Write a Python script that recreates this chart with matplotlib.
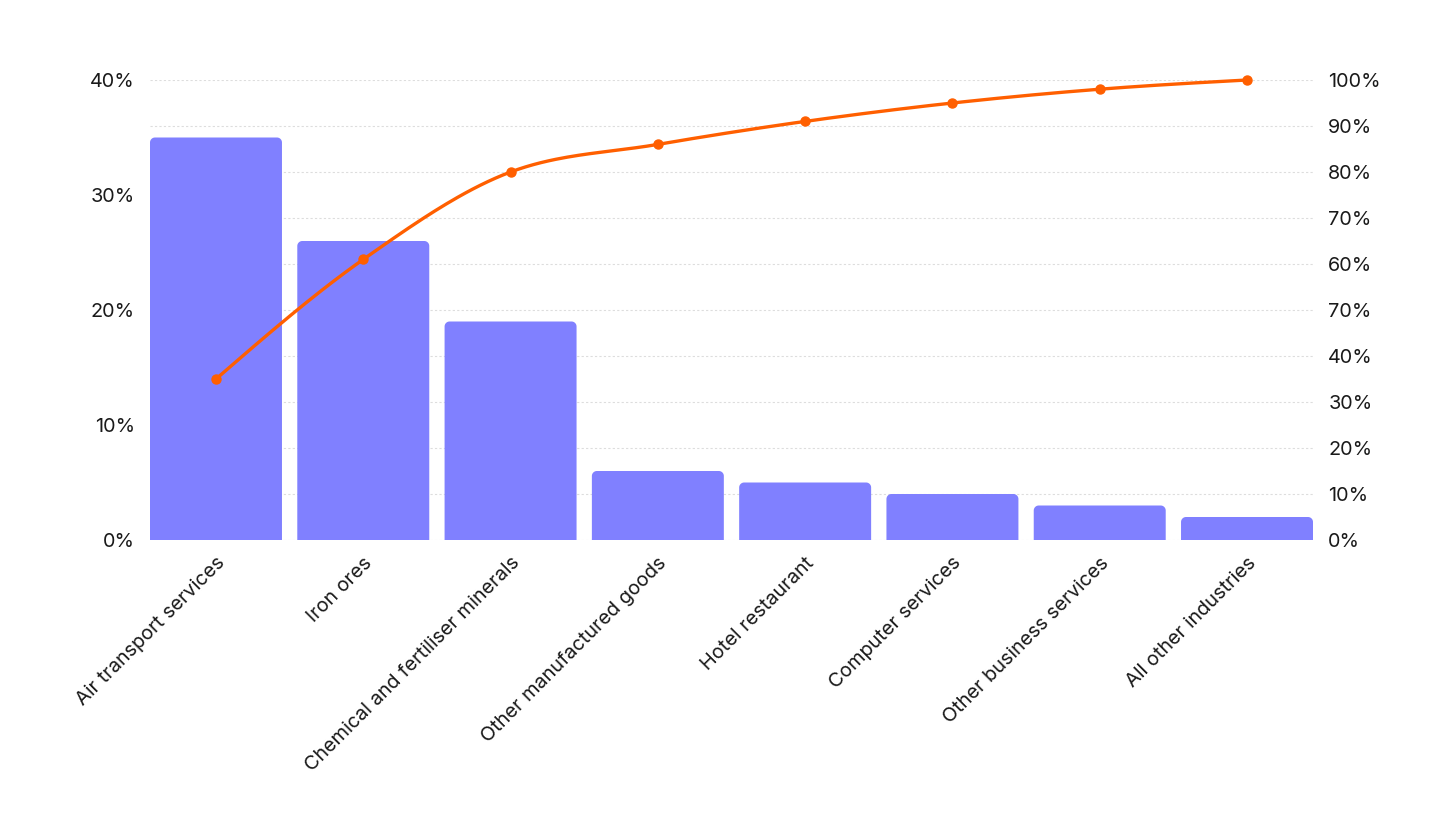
import numpy as np
import matplotlib
matplotlib.use("Agg")
import matplotlib.pyplot as plt
from matplotlib.patches import PathPatch
from matplotlib.path import Path

plt.rcParams['font.family'] = ['Inter', 'DejaVu Sans']

categories = ["Air transport services", "Iron ores", "Chemical and fertiliser minerals",
              "Other manufactured goods", "Hotel restaurant", "Computer services",
              "Other business services", "All other industries"]
shares = [35, 26, 19, 6, 5, 4, 3, 2]
cumulative = [35, 61, 80, 86, 91, 95, 98, 100]
left_ticks = [0, 10, 20, 30, 40]
left_labels = ["0%", "10%", "20%", "30%", "40%"]
right_ticks = [0, 10, 20, 30, 40, 50, 60, 70, 80, 90, 100]
right_labels = ["0%", "10%", "20%", "30%", "40%", "70%", "60%", "70%", "80%", "90%", "100%"]

BAR = "#8080FF"
LINE = "#FF5F00"
TXT = "#1a1a1a"

W, H = 1451, 816
fig = plt.figure(figsize=(W / 100, H / 100), dpi=100)
L, R, B, T = 150, 1313, 540, 80
ax = fig.add_axes([L / W, 1 - B / H, (R - L) / W, (B - T) / H])
ax2 = ax.twinx()

x = np.arange(len(categories))
ax.set_xlim(-0.448, len(categories) - 1 + 0.448)
ax.set_ylim(0, 40)
ax2.set_ylim(0, 100)

ax2.set_yticks(right_ticks)
ax2.set_yticklabels(right_labels)
for v in right_ticks:
    ax.axhline(v * 0.4, color="#dddddd", lw=0.8, ls=(0, (2, 2)), zorder=0)

bars = ax.bar(x, shares, width=0.896, color=BAR, zorder=2)
px_per_x = (R - L) / (ax.get_xlim()[1] - ax.get_xlim()[0])
px_per_y = (B - T) / 40.0
rx = 5.0 / px_per_x
ry = 5.0 / px_per_y
ang = np.linspace(0, np.pi / 2, 12)
for p in bars:
    p.set_visible(False)
    x0, y0, w, h = p.get_x(), p.get_y(), p.get_width(), p.get_height()
    x1, y1 = x0 + w, y0 + h
    pts = [(x0, y0)]
    for a in ang:
        pts.append((x0 + rx - rx * np.cos(a), y1 - ry + ry * np.sin(a)))
    for a in ang[::-1]:
        pts.append((x1 - rx + rx * np.cos(a), y1 - ry + ry * np.sin(a)))
    pts.append((x1, y0))
    pts.append((x0, y0))
    ax.add_patch(PathPatch(Path(pts, closed=True), facecolor=BAR, edgecolor="none", zorder=2))

def monotone(xs, ys, n=40):
    xs = np.asarray(xs, float); ys = np.asarray(ys, float)
    h = np.diff(xs); d = np.diff(ys) / h
    m = np.zeros(len(xs))
    for i in range(1, len(xs) - 1):
        if d[i - 1] * d[i] <= 0:
            m[i] = 0
        else:
            s0, s1 = d[i - 1], d[i]
            p = (s0 * h[i] + s1 * h[i - 1]) / (h[i - 1] + h[i])
            m[i] = (np.sign(s0) + np.sign(s1)) * min(abs(s0), abs(s1), 0.5 * abs(p))
    m[0] = (3 * d[0] - m[1]) / 2
    m[-1] = (3 * d[-1] - m[-2]) / 2
    X, Y = [], []
    for i in range(len(xs) - 1):
        t = np.linspace(0, 1, n)
        h00 = 2 * t**3 - 3 * t**2 + 1
        h10 = t**3 - 2 * t**2 + t
        h01 = -2 * t**3 + 3 * t**2
        h11 = t**3 - t**2
        X.append(xs[i] + t * h[i])
        Y.append(h00 * ys[i] + h10 * h[i] * m[i] + h01 * ys[i + 1] + h11 * h[i] * m[i + 1])
    return np.concatenate(X), np.concatenate(Y)

cx, cy = monotone(x, cumulative)
ax2.plot(cx, cy, color=LINE, lw=2.4, solid_capstyle="round", zorder=3, clip_on=False)
ax2.plot(x, cumulative, "o", color=LINE, ms=6.5, zorder=4, clip_on=False)

ax.set_yticks(left_ticks)
ax.set_yticklabels(left_labels)
ax.set_xticks(x)
ax.set_xticklabels(categories, rotation=45, ha="right", rotation_mode="anchor")

for a in (ax, ax2):
    for s in a.spines.values():
        s.set_visible(False)
    a.tick_params(length=0, labelsize=14.3, labelcolor=TXT)
ax.tick_params(axis="y", pad=11)
ax.tick_params(axis="x", pad=10)
ax2.tick_params(axis="y", pad=11)
ax2.patch.set_visible(False)

fig.savefig("out.png", dpi=100, facecolor="white")
